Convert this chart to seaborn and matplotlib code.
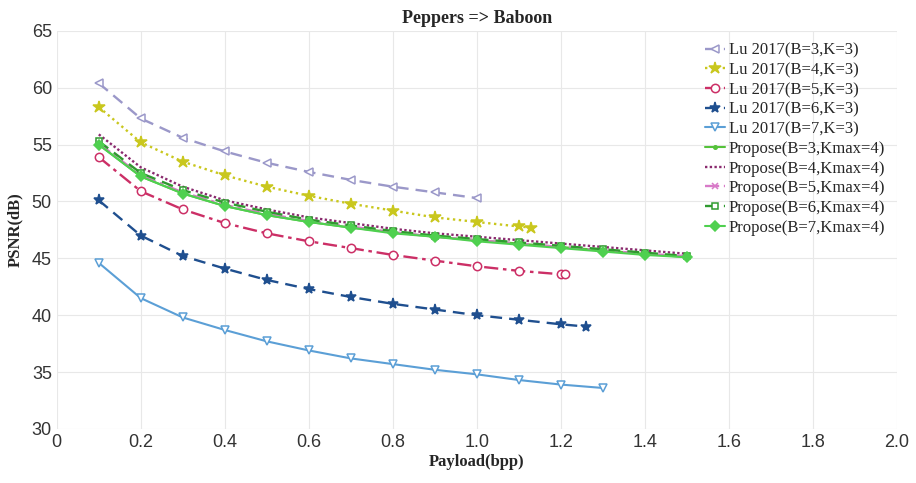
import numpy as np
import pandas as pd
import seaborn as sns
import matplotlib.pyplot as plt

# payload values (bpp)
x_lu3 = [0.1, 0.2, 0.3, 0.4, 0.5, 0.6, 0.7, 0.8, 0.9, 1.0]
x_lu4 = [0.1, 0.2, 0.3, 0.4, 0.5, 0.6, 0.7, 0.8, 0.9, 1.0, 1.1, 1.13]
x_lu5 = [0.1, 0.2, 0.3, 0.4, 0.5, 0.6, 0.7, 0.8, 0.9, 1.0, 1.1, 1.2, 1.21]
x_lu6 = [0.1, 0.2, 0.3, 0.4, 0.5, 0.6, 0.7, 0.8, 0.9, 1.0, 1.1, 1.2, 1.26]
x_lu7 = [0.1, 0.2, 0.3, 0.4, 0.5, 0.6, 0.7, 0.8, 0.9, 1.0, 1.1, 1.2, 1.3]
x_pro = [0.1, 0.2, 0.3, 0.4, 0.5, 0.6, 0.7, 0.8, 0.9, 1.0, 1.1, 1.2, 1.3, 1.4, 1.5]

# PSNR values (dB)
lu_b3 = [60.4, 57.3, 55.6, 54.4, 53.4, 52.6, 51.9, 51.3, 50.8, 50.3]
lu_b4 = [58.3, 55.2, 53.5, 52.3, 51.3, 50.5, 49.8, 49.2, 48.6, 48.2, 47.8, 47.7]
lu_b5 = [53.9, 50.9, 49.3, 48.1, 47.2, 46.5, 45.9, 45.3, 44.8, 44.3, 43.9, 43.6, 43.6]
lu_b6 = [50.1, 47.0, 45.2, 44.1, 43.1, 42.3, 41.6, 41.0, 40.5, 40.0, 39.6, 39.2, 39.0]
lu_b7 = [44.6, 41.5, 39.8, 38.7, 37.7, 36.9, 36.2, 35.7, 35.2, 34.8, 34.3, 33.9, 33.6]
pro_b3 = [55.0, 52.2, 50.7, 49.6, 48.8, 48.2, 47.7, 47.3, 46.9, 46.6, 46.3, 46.0, 45.7, 45.4, 45.1]
pro_b4 = [55.9, 53.0, 51.3, 50.1, 49.3, 48.6, 48.1, 47.6, 47.2, 46.9, 46.6, 46.3, 46.0, 45.7, 45.4]
pro_b5 = [55.1, 52.3, 50.8, 49.7, 48.9, 48.3, 47.8, 47.3, 46.9, 46.6, 46.3, 46.0, 45.7, 45.4, 45.2]
pro_b6 = [55.3, 52.5, 51.0, 49.9, 49.1, 48.4, 47.9, 47.4, 47.0, 46.7, 46.4, 46.1, 45.8, 45.5, 45.2]
pro_b7 = [55.0, 52.2, 50.7, 49.6, 48.8, 48.2, 47.7, 47.2, 46.9, 46.5, 46.2, 45.9, 45.6, 45.3, 45.1]

series = [
    ("Lu 2017(B=3,K=3)", x_lu3, lu_b3, "#9b98c9", (0, (5, 3)), "<", "white", 6),
    ("Lu 2017(B=4,K=3)", x_lu4, lu_b4, "#c9c71e", (0, (1, 1.5)), "*", None, 9),
    ("Lu 2017(B=5,K=3)", x_lu5, lu_b5, "#cc2f66", (0, (6, 2, 1.5, 2)), "o", "white", 6),
    ("Lu 2017(B=6,K=3)", x_lu6, lu_b6, "#1f4f8f", (0, (5, 3)), "*", None, 8),
    ("Lu 2017(B=7,K=3)", x_lu7, lu_b7, "#5b9fd6", "-", "v", "white", 6),
    ("Propose(B=3,Kmax=4)", x_pro, pro_b3, "#55c23a", "-", ".", None, 5),
    ("Propose(B=4,Kmax=4)", x_pro, pro_b4, "#8a2a6e", (0, (1, 1)), None, None, 5),
    ("Propose(B=5,Kmax=4)", x_pro, pro_b5, "#d87ac8", (0, (6, 2, 1.5, 2)), "x", None, 5),
    ("Propose(B=6,Kmax=4)", x_pro, pro_b6, "#2f9a2f", (0, (5, 3)), "s", "white", 5),
    ("Propose(B=7,Kmax=4)", x_pro, pro_b7, "#4fd04f", "-", "D", None, 5),
]

sns.set_style("whitegrid", {"grid.color": "#e8e8e8", "axes.edgecolor": "white"})
fig, ax = plt.subplots(figsize=(9.16, 4.83), dpi=100)
fig.subplots_adjust(left=0.062, right=0.979, top=0.936, bottom=0.112)

for name, xs, ys, col, ls, mk, mfc, ms in series:
    df = pd.DataFrame({"x": xs, "y": ys})
    sns.lineplot(data=df, x="x", y="y", ax=ax, color=col, linestyle=ls,
                 linewidth=1.5 if ls == "-" else 1.7,
                 marker=mk, markersize=ms,
                 markerfacecolor=mfc if mfc else col, markeredgecolor=col,
                 markeredgewidth=1.1, label=name)

ax.set_xlim(0, 2.0)
ax.set_ylim(30, 65)
ax.set_xticks(np.arange(0, 2.01, 0.2))
ax.set_xticklabels(["0", "0.2", "0.4", "0.6", "0.8", "1.0", "1.2", "1.4", "1.6", "1.8", "2.0"])
ax.set_yticks(np.arange(30, 66, 5))
ax.tick_params(labelsize=13, colors="#333333", length=0)
for lab in ax.get_xticklabels() + ax.get_yticklabels():
    lab.set_fontfamily("Liberation Sans")
for s in ax.spines.values():
    s.set_visible(False)

ax.set_title("Peppers => Baboon", fontfamily="Liberation Serif", fontweight="bold", fontsize=13, pad=6)
ax.set_xlabel("Payload(bpp)", fontfamily="Liberation Serif", fontweight="bold", fontsize=12, labelpad=2)
ax.set_ylabel("PSNR(dB)", fontfamily="Liberation Serif", fontweight="bold", fontsize=12, labelpad=6)

ax.legend(loc="upper right", bbox_to_anchor=(1.0, 1.0), frameon=False,
          prop={"family": "Liberation Serif", "size": 12}, handlelength=1.2,
          handletextpad=0.2, labelspacing=0.22, borderaxespad=0.3)

fig.savefig("out.png", dpi=100)
